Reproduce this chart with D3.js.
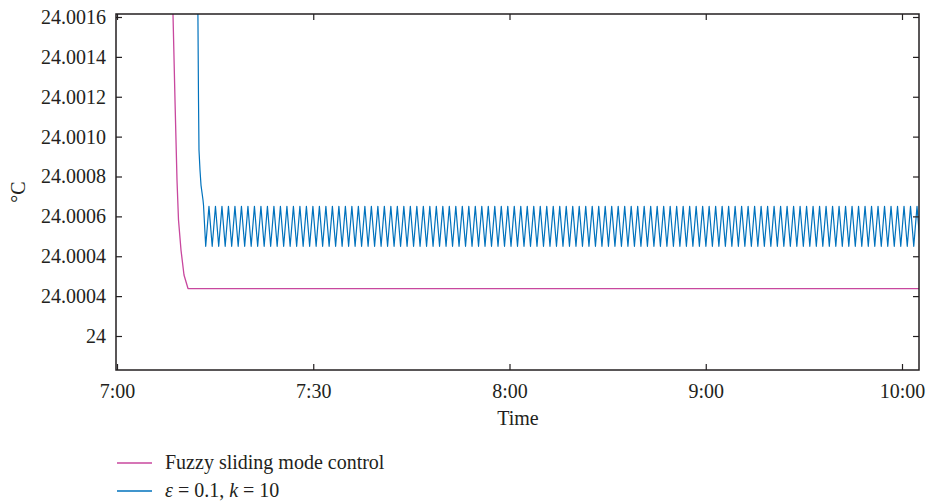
<!DOCTYPE html>
<html>
<head>
<meta charset="utf-8">
<script src="https://cdn.jsdelivr.net/npm/d3@7"></script>
<style>
  html, body { margin: 0; padding: 0; background: #fff; }
  svg { display: block; }
  svg text { font-family: "Liberation Serif", "DejaVu Serif", serif !important; fill: #231f20; }
</style>
</head>
<body>
<svg id="chart" width="928" height="504"></svg>
<script>
// ---- data ----
const xTickPos = [0, 1, 2, 3, 4];
const xTickLabels = ["7:00", "7:30", "8:00", "9:00", "10:00"];
const yTickValues = [24, 24.0002, 24.0004, 24.0006, 24.0008, 24.0010, 24.0012, 24.0014, 24.0016];
const yTickLabels = ["24", "24.0004", "24.0004", "24.0006", "24.0008", "24.0010", "24.0012", "24.0014", "24.0016"];
const seriesNames = ["Fuzzy sliding mode control", "ε = 0.1, k = 10"];

// Fuzzy sliding mode control: [time, °C]
const fuzzySeries = [
  [0.2833, 24.0017], [0.2955, 24.001184], [0.3057, 24.000782], [0.3134, 24.000582],
  [0.3261, 24.000431], [0.3414, 24.000306], [0.3618, 24.000238], [4.09, 24.000238]
];

// ε = 0.1, k = 10 : transient part then oscillation turning points
const smcTransient = [
  [0.4117, 24.0017], [0.4153, 24.001184], [0.4178, 24.000933], [0.4229, 24.000833],
  [0.4280, 24.000757], [0.4382, 24.000682], [0.4408, 24.000657]
];
const smcTroughValue = 24.00045;
const smcPeakValue = 24.00065;
const smcTroughTimes = [
  0.4520,0.4851,0.5182,0.5513,0.5844,0.6175,0.6506,0.6837,0.7168,0.7499,
  0.7830,0.8161,0.8492,0.8823,0.9154,0.9485,0.9816,1.0147,1.0478,1.0809,
  1.1140,1.1471,1.1802,1.2133,1.2464,1.2795,1.3126,1.3457,1.3788,1.4119,
  1.4450,1.4781,1.5112,1.5443,1.5774,1.6105,1.6436,1.6767,1.7098,1.7429,
  1.7760,1.8091,1.8422,1.8753,1.9084,1.9415,1.9746,2.0077,2.0408,2.0739,
  2.1070,2.1401,2.1732,2.2063,2.2394,2.2725,2.3056,2.3387,2.3718,2.4049,
  2.4380,2.4711,2.5042,2.5373,2.5704,2.6035,2.6366,2.6697,2.7028,2.7359,
  2.7690,2.8021,2.8352,2.8683,2.9014,2.9345,2.9676,3.0007,3.0338,3.0669,
  3.1000,3.1331,3.1662,3.1993,3.2324,3.2655,3.2986,3.3317,3.3648,3.3979,
  3.4310,3.4641,3.4972,3.5303,3.5634,3.5965,3.6296,3.6627,3.6958,3.7289,
  3.7620,3.7951,3.8282,3.8613,3.8944,3.9275,3.9606,3.9937,4.0268,4.0599,
  4.0930
];
const smcPeakTimes = [
  0.4686,0.5017,0.5348,0.5679,0.6010,0.6341,0.6672,0.7003,0.7334,0.7665,
  0.7996,0.8327,0.8658,0.8989,0.9320,0.9651,0.9982,1.0313,1.0644,1.0975,
  1.1306,1.1637,1.1968,1.2299,1.2630,1.2961,1.3292,1.3623,1.3954,1.4285,
  1.4616,1.4947,1.5278,1.5609,1.5940,1.6271,1.6602,1.6933,1.7264,1.7595,
  1.7926,1.8257,1.8588,1.8919,1.9250,1.9581,1.9912,2.0243,2.0574,2.0905,
  2.1236,2.1567,2.1898,2.2229,2.2560,2.2891,2.3222,2.3553,2.3884,2.4215,
  2.4546,2.4877,2.5208,2.5539,2.5870,2.6201,2.6532,2.6863,2.7194,2.7525,
  2.7856,2.8187,2.8518,2.8849,2.9180,2.9511,2.9842,3.0173,3.0504,3.0835,
  3.1166,3.1497,3.1828,3.2159,3.2490,3.2821,3.3152,3.3483,3.3814,3.4145,
  3.4476,3.4807,3.5138,3.5469,3.5800,3.6131,3.6462,3.6793,3.7124,3.7455,
  3.7786,3.8117,3.8448,3.8779,3.9110,3.9441,3.9772,4.0103,4.0434,4.0765
];

const colors = ["#c8479e", "#0072bd"];

// ---- layout ----
const svg = d3.select("#chart");
const plot = { left: 116, right: 919, top: 14, bottom: 370 };
const serif = "'Liberation Serif', 'DejaVu Serif', serif";

const x = d3.scaleLinear().domain([0, 4]).range([117, 902]);
const y = d3.scaleLinear().domain([24, 24.0016]).range([336, 17]);

const smcSeries = smcTransient.concat(
  smcTroughTimes.map(t => [t, smcTroughValue]),
  smcPeakTimes.map(t => [t, smcPeakValue])
).sort((a, b) => a[0] - b[0]);

svg.append("defs").append("clipPath").attr("id", "clip")
  .append("rect")
  .attr("x", plot.left).attr("y", plot.top)
  .attr("width", plot.right - plot.left).attr("height", plot.bottom - plot.top);

const line = d3.line().x(d => x(d[0])).y(d => y(d[1]));

const g = svg.append("g").attr("clip-path", "url(#clip)");
g.append("path").datum(fuzzySeries)
  .attr("fill", "none").attr("stroke", colors[0]).attr("stroke-width", 1.3)
  .attr("stroke-linejoin", "round")
  .attr("d", line);
g.append("path").datum(smcSeries)
  .attr("fill", "none").attr("stroke", colors[1]).attr("stroke-width", 1.2)
  .attr("stroke-linejoin", "round")
  .attr("d", line);

// ---- axes ----
const tickLen = 6;
const axisColor = "#231f20";

const bottomAxis = d3.axisBottom(x).tickValues(xTickPos)
  .tickFormat((d, i) => xTickLabels[i]).tickSizeInner(-tickLen).tickSizeOuter(0).tickPadding(14);
const topAxis = d3.axisTop(x).tickValues(xTickPos).tickFormat("").tickSizeInner(-tickLen).tickSizeOuter(0);
const leftAxis = d3.axisLeft(y).tickValues(yTickValues)
  .tickFormat((d, i) => yTickLabels[i]).tickSizeInner(-tickLen).tickSizeOuter(0).tickPadding(10);
const rightAxis = d3.axisRight(y).tickValues(yTickValues).tickFormat("").tickSizeInner(-tickLen).tickSizeOuter(0);

function styleAxis(sel) {
  sel.attr("font-family", serif).attr("font-size", 20);
  sel.select(".domain").remove();
  sel.selectAll(".tick line").attr("stroke", axisColor).attr("stroke-width", 1.2);
  sel.selectAll(".tick text").attr("font-size", 20).attr("fill", axisColor)
    .style("font-family", serif);
}

svg.append("g").attr("transform", `translate(0,${plot.bottom})`).call(bottomAxis).call(styleAxis);
svg.append("g").attr("transform", `translate(0,${plot.top})`).call(topAxis).call(styleAxis);
svg.append("g").attr("transform", `translate(${plot.left},0)`).call(leftAxis).call(styleAxis);
svg.append("g").attr("transform", `translate(${plot.right},0)`).call(rightAxis).call(styleAxis);

svg.append("rect")
  .attr("x", plot.left).attr("y", plot.top)
  .attr("width", plot.right - plot.left).attr("height", plot.bottom - plot.top)
  .attr("fill", "none").attr("stroke", axisColor).attr("stroke-width", 1.5);

// axis titles
svg.append("text").attr("x", 518).attr("y", 425).attr("text-anchor", "middle")
  .attr("font-size", 20).style("font-family", serif).text("Time");
svg.append("text").attr("transform", "translate(25,192) rotate(-90)")
  .attr("text-anchor", "middle").attr("font-size", 20).style("font-family", serif).text("°C");

// ---- legend ----
const legendY = [463, 491];
seriesNames.forEach((name, i) => {
  svg.append("line").attr("x1", 117).attr("x2", 152)
    .attr("y1", legendY[i]).attr("y2", legendY[i])
    .attr("stroke", colors[i]).attr("stroke-width", 1.3);
  const t = svg.append("text").attr("x", 165).attr("y", legendY[i] + 6)
    .attr("font-size", 20).style("font-family", serif);
  if (i === 0) {
    t.text(name);
  } else {
    t.append("tspan").attr("font-style", "italic").text("ε");
    t.append("tspan").text(" = 0.1, ");
    t.append("tspan").attr("font-style", "italic").text("k");
    t.append("tspan").text(" = 10");
  }
});
</script>
</body>
</html>
